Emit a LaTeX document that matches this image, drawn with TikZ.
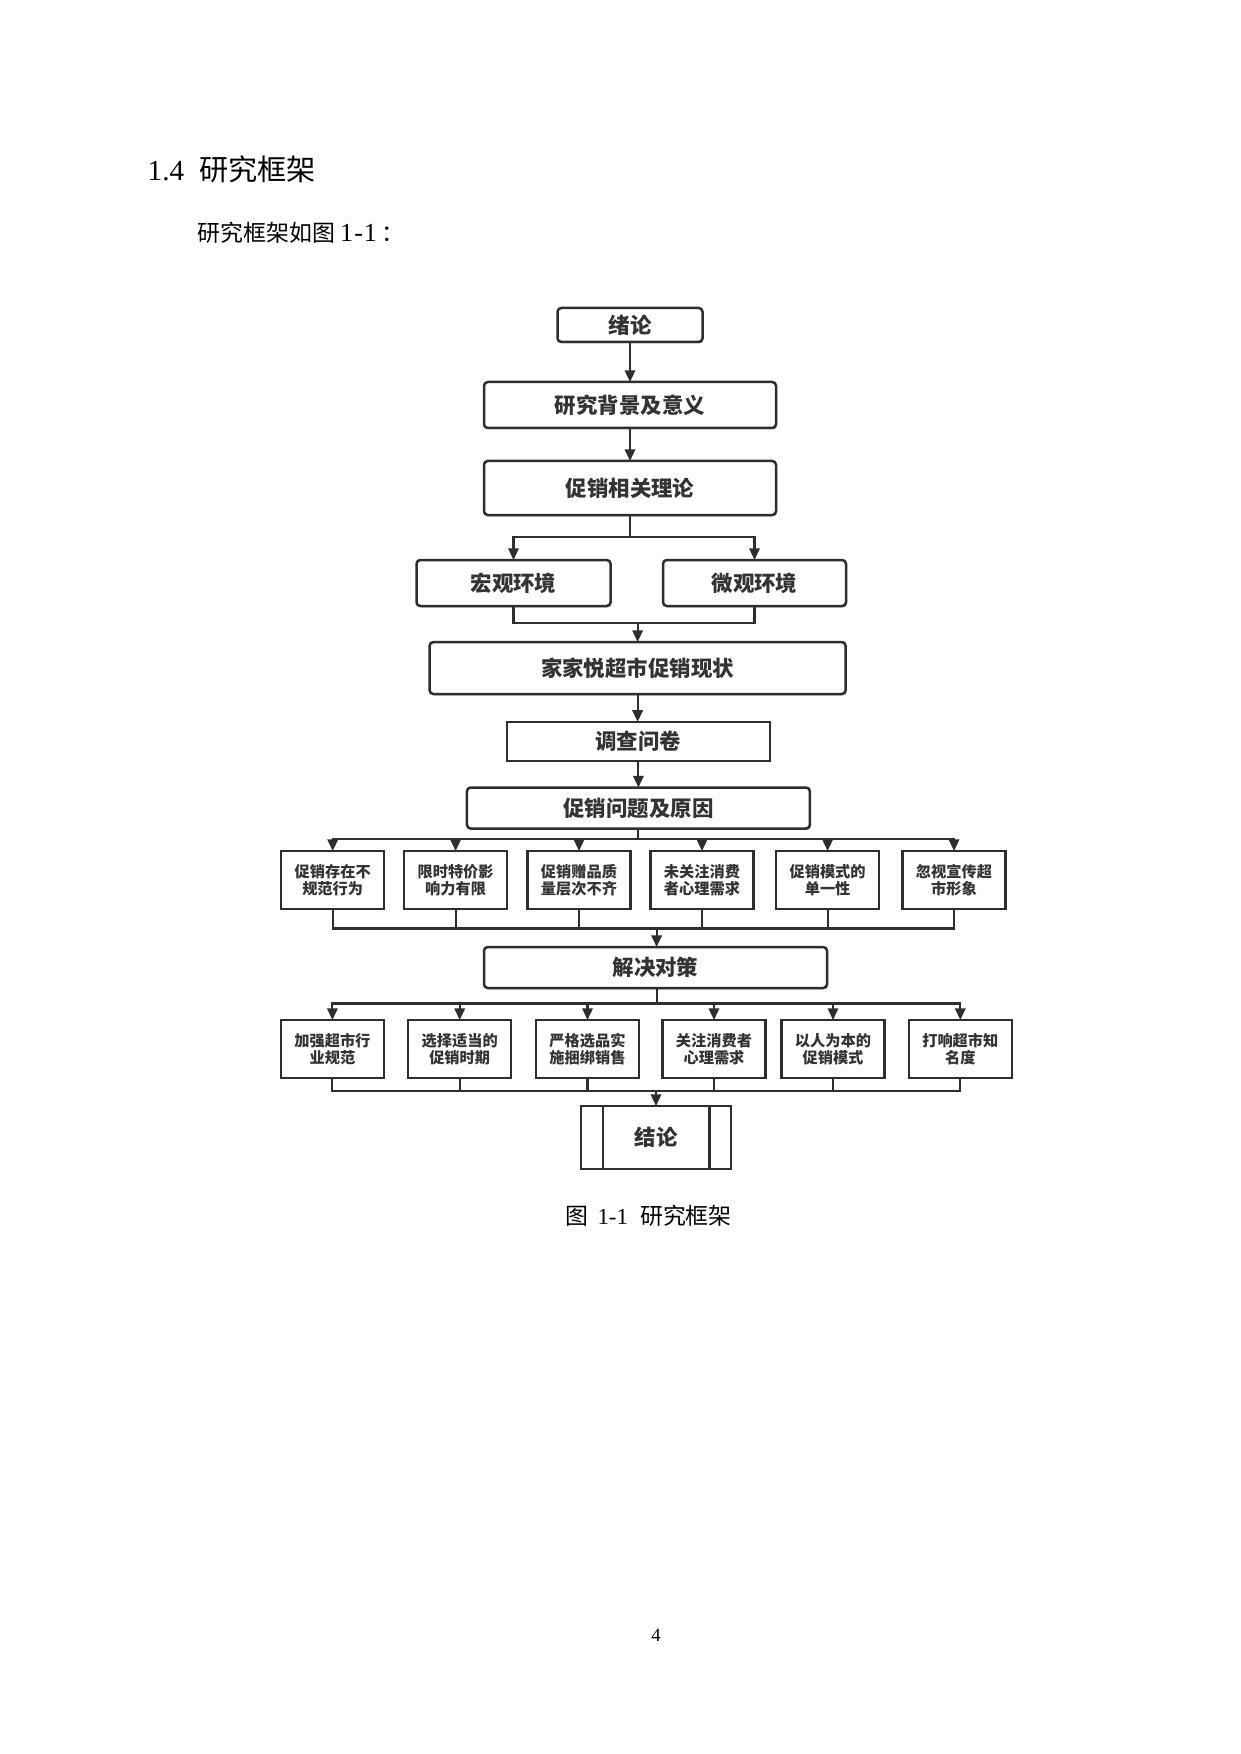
\documentclass[tikz,border=0pt]{standalone}
\usepackage{fontspec}
\setmainfont{Liberation Serif}
\newfontfamily\cjk{Noto Sans CJK SC}
\usetikzlibrary{arrows.meta,shadows}
\definecolor{linec}{HTML}{2E2E2E}
\definecolor{textc}{HTML}{333333}
\begin{document}
\begin{tikzpicture}[x=0.48006pt,y=-0.48006pt,
  lin/.style={draw=linec, line width=1pt},
  arr/.style={lin, -{Triangle[width=5pt,length=5.6pt]}},
  bx/.style n args={2}{draw=linec, line width=1.2pt, fill=white,
    minimum width=#1*0.48006pt, minimum height=#2*0.48006pt,
    inner sep=0pt, outer sep=0pt, text=textc, align=center,
    font=\cjk\bfseries\fontsize{10.3}{12}\selectfont},
  rbx/.style n args={2}{bx={#1}{#2}, rounded corners=1.8pt,
    drop shadow={shadow xshift=0.5pt, shadow yshift=-0.7pt, fill=black, opacity=0.25}},
  sbx/.style={bx={103}{58}, font=\cjk\bfseries\fontsize{7.3}{8.3}\selectfont},
  txt/.style={anchor=base west, inner sep=0pt, outer sep=0pt}
]
\fill[white] (0,0) rectangle (1240,1754);
\useasboundingbox (0,0) rectangle (1240,1754);

% header texts
\node[txt] (head) at (147.7,181) {\fontsize{14}{16}\selectfont 1.4\hspace{7.3pt}{\cjk 研究框架}};
\node[txt] (intro) at (197.5,242) {{\cjk\fontsize{11}{13}\selectfont 研究框架如图}\hspace{2.5pt}\fontsize{12.5}{14}\selectfont 1\kern0.5pt-\kern0.5pt1\hspace{2pt}{\cjk\fontsize{11}{13}\selectfont ：}};

% main boxes
\node[rbx={145}{34}] (t1) at (630,325) {绪论};
\node[rbx={292}{46}] (t2) at (630,405) {研究背景及意义};
\node[rbx={292}{54}] (t3) at (630,488) {促销相关理论};
\node[rbx={194}{46}] (hg) at (513.5,583) {宏观环境};
\node[rbx={183}{46}] (wg) at (754.5,583) {微观环境};
\node[rbx={416}{52}] (jj) at (637.6,668) {家家悦超市促销现状};
\node[bx={263}{39}] (dc) at (638.4,741.4) {调查问卷};
\node[rbx={343}{41}] (wt) at (638.4,808) {促销问题及原因};

% row 1
\node[sbx] (a1) at (332.7,880) {促销存在不\\规范行为};
\node[sbx] (a2) at (455.6,880) {限时特价影\\响力有限};
\node[sbx] (a3) at (579,880) {促销赠品质\\量层次不齐};
\node[sbx] (a4) at (702,880) {未关注消费\\者心理需求};
\node[sbx] (a5) at (827.6,880) {促销模式的\\单一性};
\node[sbx] (a6) at (954,880) {忽视宣传超\\市形象};

\node[rbx={343}{41}] (jc) at (655.5,967.5) {解决对策};

% row 2
\node[sbx] (b1) at (332.4,1049) {加强超市行\\业规范};
\node[sbx] (b2) at (459.7,1049) {选择适当的\\促销时期};
\node[sbx] (b3) at (587.5,1049) {严格选品实\\施捆绑销售};
\node[sbx] (b4) at (714,1049) {关注消费者\\心理需求};
\node[sbx] (b5) at (833,1049) {以人为本的\\促销模式};
\node[sbx] (b6) at (960.3,1049) {打响超市知\\名度};

% final predefined-process box
\node[bx={150}{63}] (jl) at (656,1137.5) {结论};
\draw[draw=linec, line width=1.2pt] ([xshift=10.56pt]jl.north west) -- ([xshift=10.56pt]jl.south west);
\draw[draw=linec, line width=1.2pt] ([xshift=-10.4pt]jl.north east) -- ([xshift=-10.4pt]jl.south east);

% junction levels
\coordinate (s1) at (630,536.7);
\coordinate (m1) at (637.6,623);
\coordinate (s2) at (638.4,839);
\coordinate (m2) at (656.6,928.5);
\coordinate (s3) at (656.6,1003.5);
\coordinate (m3) at (656,1091);

% connectors
\draw[arr] (t1.south) -- (t1.south |- t2.north);
\draw[arr] (t2.south) -- (t2.south |- t3.north);
\draw[lin] (t3.south) -- (t3.south |- s1);
\draw[arr] (t3.south |- s1) -| (hg.north);
\draw[arr] (t3.south |- s1) -| (wg.north);
\draw[lin] (hg.south) -- (hg.south |- m1) -- (wg.south |- m1) -- (wg.south);
\draw[arr] (m1) -- (jj.north);
\draw[arr] (jj.south) -- (jj.south |- dc.north);
\draw[arr] (dc.south) -- (dc.south |- wt.north);

\draw[lin] (wt.south) -- (s2);
\draw[arr] (s2) -| (a1.north);
\draw[arr] (s2) -| (a6.north);
\foreach \i in {2,...,5} {\draw[arr] (a\i.north |- s2) -- (a\i.north);}
\draw[lin] (a1.south) -- (a1.south |- m2) -- (a6.south |- m2) -- (a6.south);
\foreach \i in {2,...,5} {\draw[lin] (a\i.south) -- (a\i.south |- m2);}
\draw[arr] (m2) -- (m2 |- jc.north);

\draw[lin] (jc.south -| s3) -- (s3);
\draw[arr] (s3) -| (b1.north);
\draw[arr] (s3) -| (b6.north);
\foreach \i in {2,...,5} {\draw[arr] (b\i.north |- s3) -- (b\i.north);}
\draw[lin] (b1.south) -- (b1.south |- m3) -- (b6.south |- m3) -- (b6.south);
\foreach \i in {2,...,5} {\draw[lin] (b\i.south) -- (b\i.south |- m3);}
\draw[arr] (m3) -- (jl.north);

% caption and page number
\node[txt] (cap) at (565,1224) {{\cjk\fontsize{11}{13}\selectfont 图}\hspace{4.6pt}\fontsize{11}{13}\selectfont 1-1\hspace{5.8pt}{\cjk\fontsize{11}{13}\selectfont 研究框架}};
\node[anchor=base, inner sep=0pt] (pg) at (656,1641.7) {\fontsize{9}{11}\selectfont 4};
\end{tikzpicture}
\end{document}
